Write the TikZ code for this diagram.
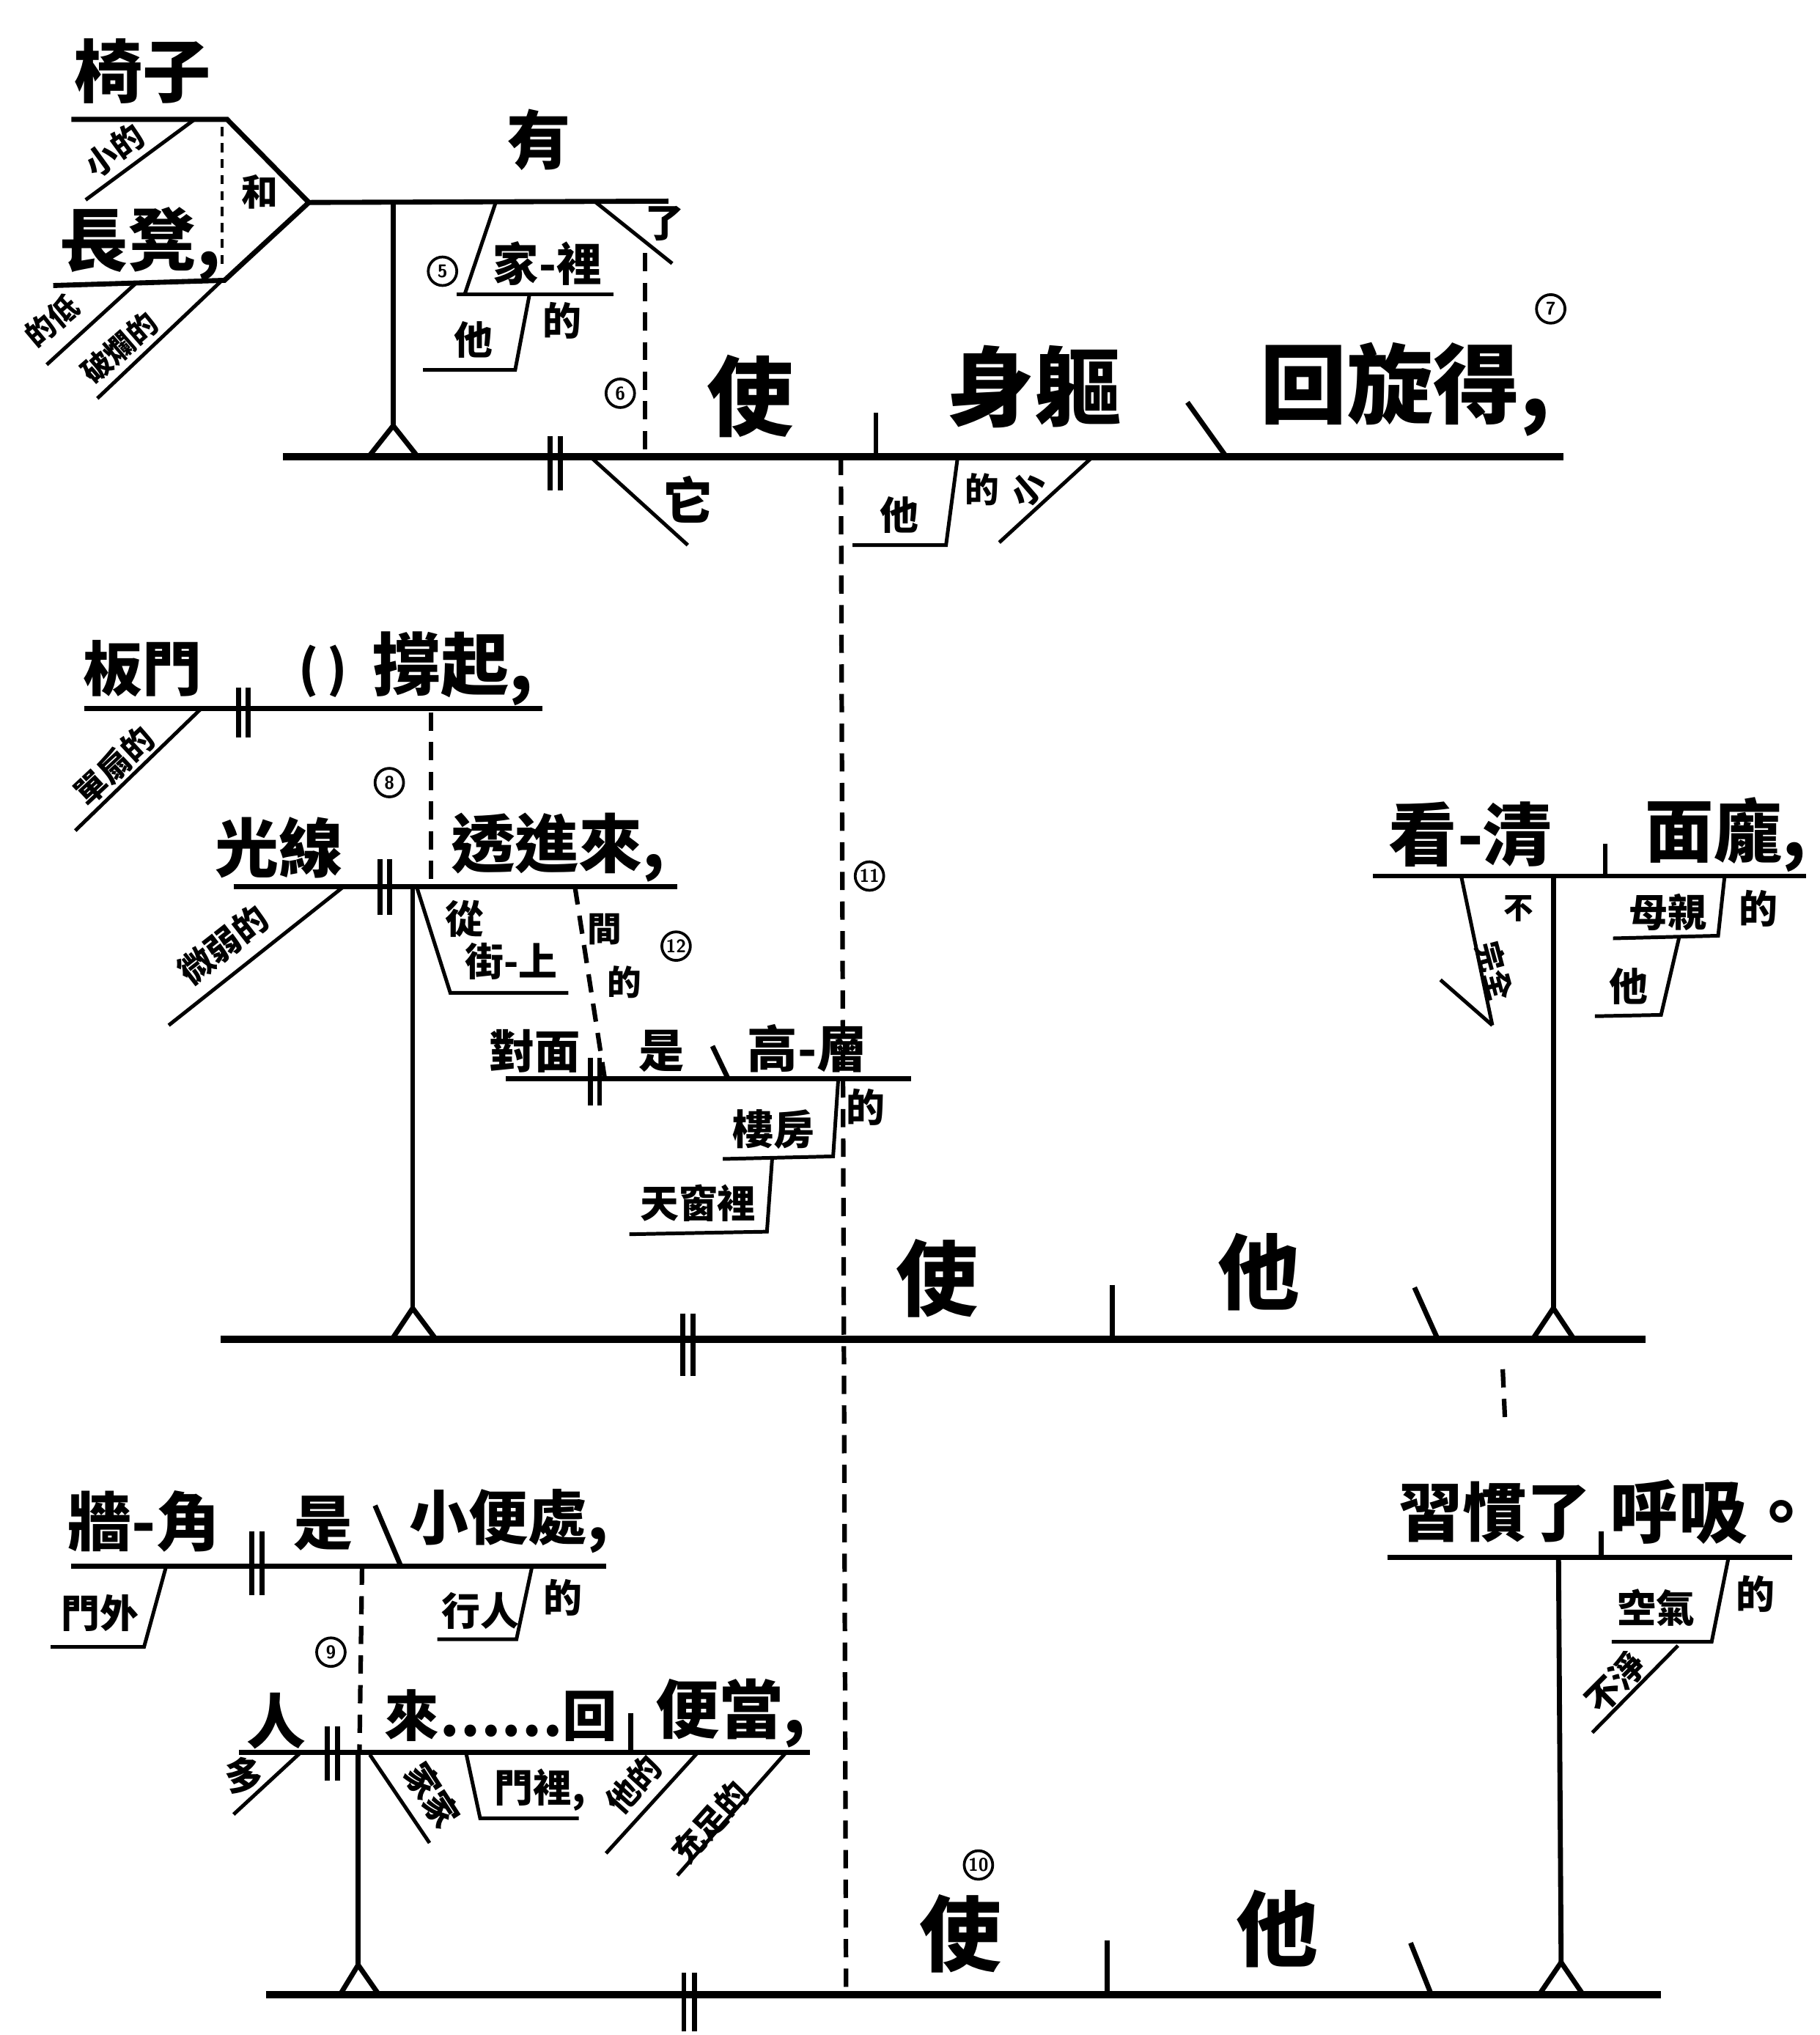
\documentclass[tikz,border=0pt]{standalone}
\usepackage{fontspec}
\newfontfamily\cjk{Noto Sans CJK TC}
\usetikzlibrary{positioning}

\begin{document}
\begin{tikzpicture}[
    x=0.02cm, y=-0.02cm,
    wd/.style={inner sep=0pt, font=\cjk\bfseries\fontsize{#1}{#1}\selectfont},
    base/.style={line width=3.2pt},
    ln/.style={line width=2.2pt},
    thin/.style={line width=1.6pt},
    dsh/.style={line width=2pt, dash pattern=on 8pt off 5pt},
    dots/.style={line width=1.4pt, dash pattern=on 4pt off 3pt},
    circ/.style={circle, draw, line width=1.2pt, minimum size=0.44cm, inner sep=0pt, font=\sffamily\bfseries\fontsize{8}{8}\selectfont}
]
\useasboundingbox (0,0) rectangle (1402,1568);

% Block 1
\coordinate (fork) at (238,156);
\draw[ln] (55,92) -- (175,92) -- (fork) -- (173,216) -- (41,220);
\draw[ln] (fork) -- (515,155);
\draw[dots] (171,98) -- (171,205);
\draw[thin] (150,92) -- (66,154);
\draw[thin] (105,218) -- (36,281);
\draw[thin] (170,217) -- (75,307);
\node[wd=30] (yizi) at (110,55) {椅子};
\node[wd=30] (changdeng) at (108,188) {長凳,};
\node[wd=16] (he) at (200,148) {和};
\node[wd=14, rotate=36] (xiaode) at (88,116) {小的};
\node[wd=13, rotate=40] (dedi) at (40,247) {的低};
\node[wd=13, rotate=41] (polan) at (92,268) {破爛的};
\node[wd=28] (you) at (415,108) {有};

\draw[ln] (303,156) -- (303,328);
\draw[ln] (284,352) -- (303,328) -- (322,352);
\draw[thin] (382,156) -- (358,227);
\draw[thin] (352,227) -- (473,227);
\draw[thin] (408,227) -- (397,285) -- (326,285);
\draw[thin] (458,155) -- (518,203);
\draw[dsh] (497,195) -- (497,352);
\node[wd=20] (jiali) at (422,203) {家-裡};
\node[wd=17] (ta1) at (365,262) {他};
\node[wd=17] (de1) at (433,247) {的};
\node[circ] (n5) at (341,209) {5};
\node[wd=17] (le1) at (512,172) {了};
\node[circ] (n6) at (478,303) {6};

\draw[base] (218,352) -- (1205,352);
\draw[ln] (424,336) -- (424,378);
\draw[ln] (432,336) -- (432,378);
\draw[thin] (455,352) -- (530,420);
\draw[ln] (675,318) -- (675,352);
\draw[ln] (915,310) -- (945,352);
\draw[thin] (738,352) -- (729,420) -- (657,420);
\draw[thin] (842,352) -- (770,418);
\node[wd=22] (ta0) at (530,385) {它};
\node[wd=38] (shi1) at (578,305) {使};
\node[wd=38] (shenqu) at (797,298) {身軀};
\node[wd=38] (huixuan) at (1083,300) {回旋得,};
\node[circ] (n7) at (1195,238) {7};
\node[wd=17] (ta2) at (693,397) {他};
\node[wd=15] (de2) at (757,377) {的};
\node[wd=15, rotate=41] (xiao2) at (792,377) {小};

% long dashed link
\draw[dsh] (648,352) -- (652,1537);
\node[circ] (n11) at (670,675) {11};

% Block 2
\draw[ln] (65,546) -- (418,546);
\draw[ln] (184,530) -- (184,568);
\draw[ln] (191,530) -- (191,568);
\draw[thin] (155,546) -- (58,640);
\node[wd=26] (banmen) at (110,515) {板門};
\node[wd=22] (kuo) at (249,517) {(\,)};
\node[wd=30] (chengqi) at (349,515) {撐起,};
\node[wd=14, rotate=43] (danshan) at (88,590) {單扇的};
\draw[dsh] (332,549) -- (332,681);
\node[circ] (n8) at (300,603) {8};

\draw[ln] (180,683) -- (522,683);
\draw[ln] (293,662) -- (293,705);
\draw[ln] (300,662) -- (300,705);
\node[wd=28] (guangxian) at (215,653) {光線};
\node[wd=28] (toujinlai) at (430,653) {透進來,};
\draw[thin] (265,683) -- (130,790);
\node[wd=15, rotate=38] (weiruo) at (172,728) {微弱的};
\draw[thin] (321,683) -- (347,765) -- (438,765);
\node[wd=17] (cong) at (358,708) {從};
\node[wd=17] (jieshang) at (394,741) {街-上};
\draw[ln] (318,683) -- (318,1008);
\draw[ln] (302,1032) -- (318,1008) -- (336,1032);
\draw[dsh] (443,683) -- (466,831);
\node[wd=15] (jian) at (466,716) {間};
\node[wd=15] (de3) at (481,757) {的};
\node[circ] (n12) at (521,729) {12};

\draw[ln] (390,831) -- (702,831);
\draw[ln] (455,815) -- (455,852);
\draw[ln] (462,815) -- (462,852);
\draw[ln] (549,806) -- (561,831);
\node[wd=20] (duimian) at (412,810) {對面};
\node[wd=20] (shi2) at (510,810) {是};
\node[wd=22] (gaoceng) at (622,808) {高-層};
\draw[thin] (646,831) -- (642,891) -- (557,893);
\draw[thin] (595,893) -- (591,949) -- (485,951);
\node[wd=18] (loufang) at (596,870) {樓房};
\node[wd=17] (de4) at (667,853) {的};
\node[wd=17] (tianchuang) at (538,927) {天窗裡};

\draw[base] (170,1032) -- (1268,1032);
\draw[ln] (526,1012) -- (526,1060);
\draw[ln] (534,1012) -- (534,1060);
\draw[ln] (857,990) -- (857,1032);
\draw[ln] (1090,992) -- (1108,1032);
\node[wd=36] (shi3) at (722,985) {使};
\node[wd=36] (ta3) at (970,980) {他};

\draw[ln] (1058,675) -- (1392,675);
\draw[ln] (1237,650) -- (1237,675);
\node[wd=30] (kanqing) at (1133,643) {看-清};
\node[wd=30] (mianpang) at (1330,643) {面龐,};
\draw[thin] (1126,675) -- (1150,790);
\draw[thin] (1110,755) -- (1150,790);
\node[wd=13] (bu1) at (1170,700) {不};
\node[wd=13, rotate=-75] (wanquan) at (1152,748) {完全};
\draw[thin] (1329,675) -- (1324,721) -- (1243,723);
\draw[thin] (1294,722) -- (1280,782) -- (1229,783);
\node[wd=17] (muqin) at (1285,703) {母親};
\node[wd=17] (de5) at (1355,700) {的};
\node[wd=17] (ta4) at (1255,760) {他};
\draw[ln] (1197,675) -- (1197,1008);
\draw[ln] (1181,1032) -- (1197,1008) -- (1213,1032);
\draw[dsh] (1158,1055) -- (1160,1100);

% Block 3
\draw[ln] (55,1207) -- (467,1207);
\draw[ln] (194,1180) -- (194,1229);
\draw[ln] (202,1180) -- (202,1229);
\draw[ln] (289,1160) -- (309,1207);
\node[wd=28] (qiangjiao) at (111,1172) {牆-角};
\node[wd=26] (shi4) at (249,1174) {是};
\node[wd=26] (xiaobian) at (392,1172) {小便處,};
\draw[thin] (128,1207) -- (111,1269) -- (39,1269);
\node[wd=17] (menwai) at (77,1243) {門外};
\draw[thin] (410,1207) -- (398,1263) -- (337,1263);
\node[wd=17] (xingren) at (370,1241) {行人};
\node[wd=17] (de6) at (434,1231) {的};
\draw[dsh] (279,1207) -- (277,1350);
\node[circ] (n9) at (255,1273) {9};

\draw[ln] (184,1350) -- (624,1350);
\draw[ln] (252,1330) -- (252,1372);
\draw[ln] (260,1330) -- (260,1372);
\draw[ln] (486,1320) -- (486,1350);
\node[wd=26] (ren) at (213,1326) {人};
\node[wd=24] (laihui) at (386,1322) {來……回};
\node[wd=28] (biandang) at (563,1320) {便當,};
\draw[thin] (232,1350) -- (180,1398);
\node[wd=17] (duo) at (188,1368) {多};
\draw[thin] (285,1352) -- (331,1420);
\node[wd=15, rotate=-57] (jiajia) at (333,1383) {家家};
\draw[thin] (359,1350) -- (370,1401) -- (446,1401);
\node[wd=17] (menli) at (416,1379) {門裡,};
\draw[thin] (538,1350) -- (467,1428);
\node[wd=14, rotate=48] (tade) at (488,1375) {他的};
\draw[thin] (606,1350) -- (522,1445);
\node[wd=14, rotate=48] (chongzu) at (547,1404) {充足的};
\draw[ln] (276,1350) -- (276,1514);
\draw[ln] (262,1537) -- (276,1514) -- (292,1537);

\draw[ln] (1069,1200) -- (1381,1200);
\draw[ln] (1234,1180) -- (1234,1200);
\node[wd=28] (xiguan) at (1152,1165) {習慣了};
\node[wd=30] (huxi) at (1320,1165) {呼吸。};
\draw[thin] (1332,1200) -- (1319,1265) -- (1242,1265);
\node[wd=17] (kongqi) at (1276,1239) {空氣};
\node[wd=17] (de7) at (1353,1228) {的};
\draw[thin] (1293,1268) -- (1227,1335);
\node[wd=15, rotate=45] (bujing) at (1245,1296) {不淨};
\draw[ln] (1201,1200) -- (1203,1512);
\draw[ln] (1186,1537) -- (1203,1512) -- (1220,1537);

\draw[base] (205,1537) -- (1280,1537);
\draw[ln] (527,1520) -- (527,1565);
\draw[ln] (535,1520) -- (535,1565);
\draw[ln] (853,1495) -- (853,1537);
\draw[ln] (1087,1497) -- (1103,1537);
\node[circ] (n10) at (754,1437) {10};
\node[wd=36] (shi5) at (740,1490) {使};
\node[wd=36] (ta5) at (984,1486) {他};
\end{tikzpicture}
\end{document}
